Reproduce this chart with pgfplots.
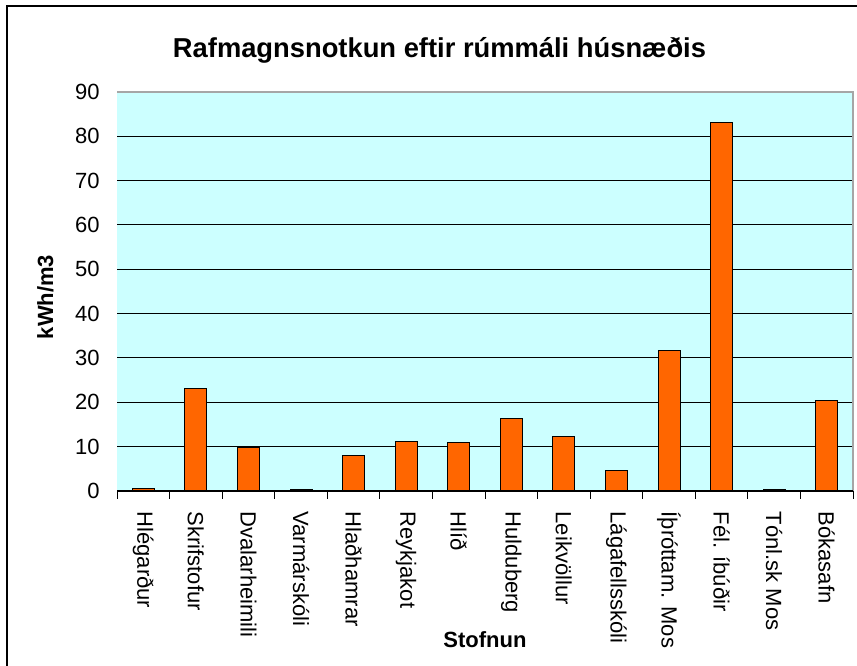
\documentclass[border=0pt]{standalone}
\usepackage{pgfplots}
\pgfplotsset{compat=1.18}
\usepackage{fontspec}
\setmainfont{Liberation Sans}
\definecolor{plotbg}{HTML}{CCFFFF}
\definecolor{barfill}{HTML}{FF6600}

\begin{document}
\begin{tikzpicture}[x=0.75pt,y=0.75pt]
\path[use as bounding box] (0,0) rectangle (857,666);
% chart frame (left and top edges visible)
\draw[line width=1.5pt] (7,0) -- (7,660) -- (857,660);
\node[font=\fontsize{20.5}{24}\selectfont\bfseries, anchor=base] at (439.5,608.5)
  {Rafmagnsnotkun eftir rúmmáli húsnæðis};
\node[font=\fontsize{16.5}{19}\selectfont\bfseries, anchor=base, rotate=90] at (53,369) {kWh/m3};
\node[font=\fontsize{16.5}{19}\selectfont\bfseries, anchor=base] at (485,18) {Stofnun};

\begin{axis}[
    at={(87.75pt,131.25pt)}, anchor=south west,
    scale only axis, width=552pt, height=299.25pt,
    xmin=-0.5, xmax=13.5, ymin=0, ymax=90,
    ybar, bar width=16.5pt,
    clip=false,
    axis background/.style={fill=plotbg},
    axis line style={draw=none},
    ytick={0,10,...,90},
    ymajorgrids, grid style={black, line width=0.75pt},
    xtick={0,...,13},
    xticklabels={Hlégarður, Skrifstofur, Dvalarheimili, Varmárskóli, Hlaðhamrar,
      Reykjakot, Hlíð, Hulduberg, Leikvöllur, Lágafellsskóli, Íþróttam. Mos,
      Fél. íbúðir, Tónl.sk Mos, Bókasafn},
    minor xtick={-0.5,0.5,...,13.5},
    xtick pos=lower, ytick pos=left,
    major tick length=0pt, minor tick length=6pt,
    tick align=outside,
    minor tick style={black, line width=0.75pt},
    ticklabel style={font=\fontsize{16.5}{19}\selectfont},
    /pgf/number format/assume math mode=true,
    yticklabel style={xshift=-9.5pt},
    xticklabel style={yshift=-12pt, rotate=-90, anchor=west},
]
\addplot[fill=barfill, draw=black, line width=0.75pt] coordinates {
    (0,0.6) (1,23.1) (2,9.8) (3,0.3) (4,7.9) (5,11.1) (6,11.0)
    (7,16.4) (8,12.3) (9,4.6) (10,31.8) (11,83.2) (12,0.3) (13,20.4)
};
\draw[gray!70, line width=1.2pt] (rel axis cs:0,1) -- (rel axis cs:1,1) -- (rel axis cs:1,0);
\draw[black, line width=1pt] (rel axis cs:0,0) -- (rel axis cs:1,0);
\end{axis}
\end{tikzpicture}
\end{document}
